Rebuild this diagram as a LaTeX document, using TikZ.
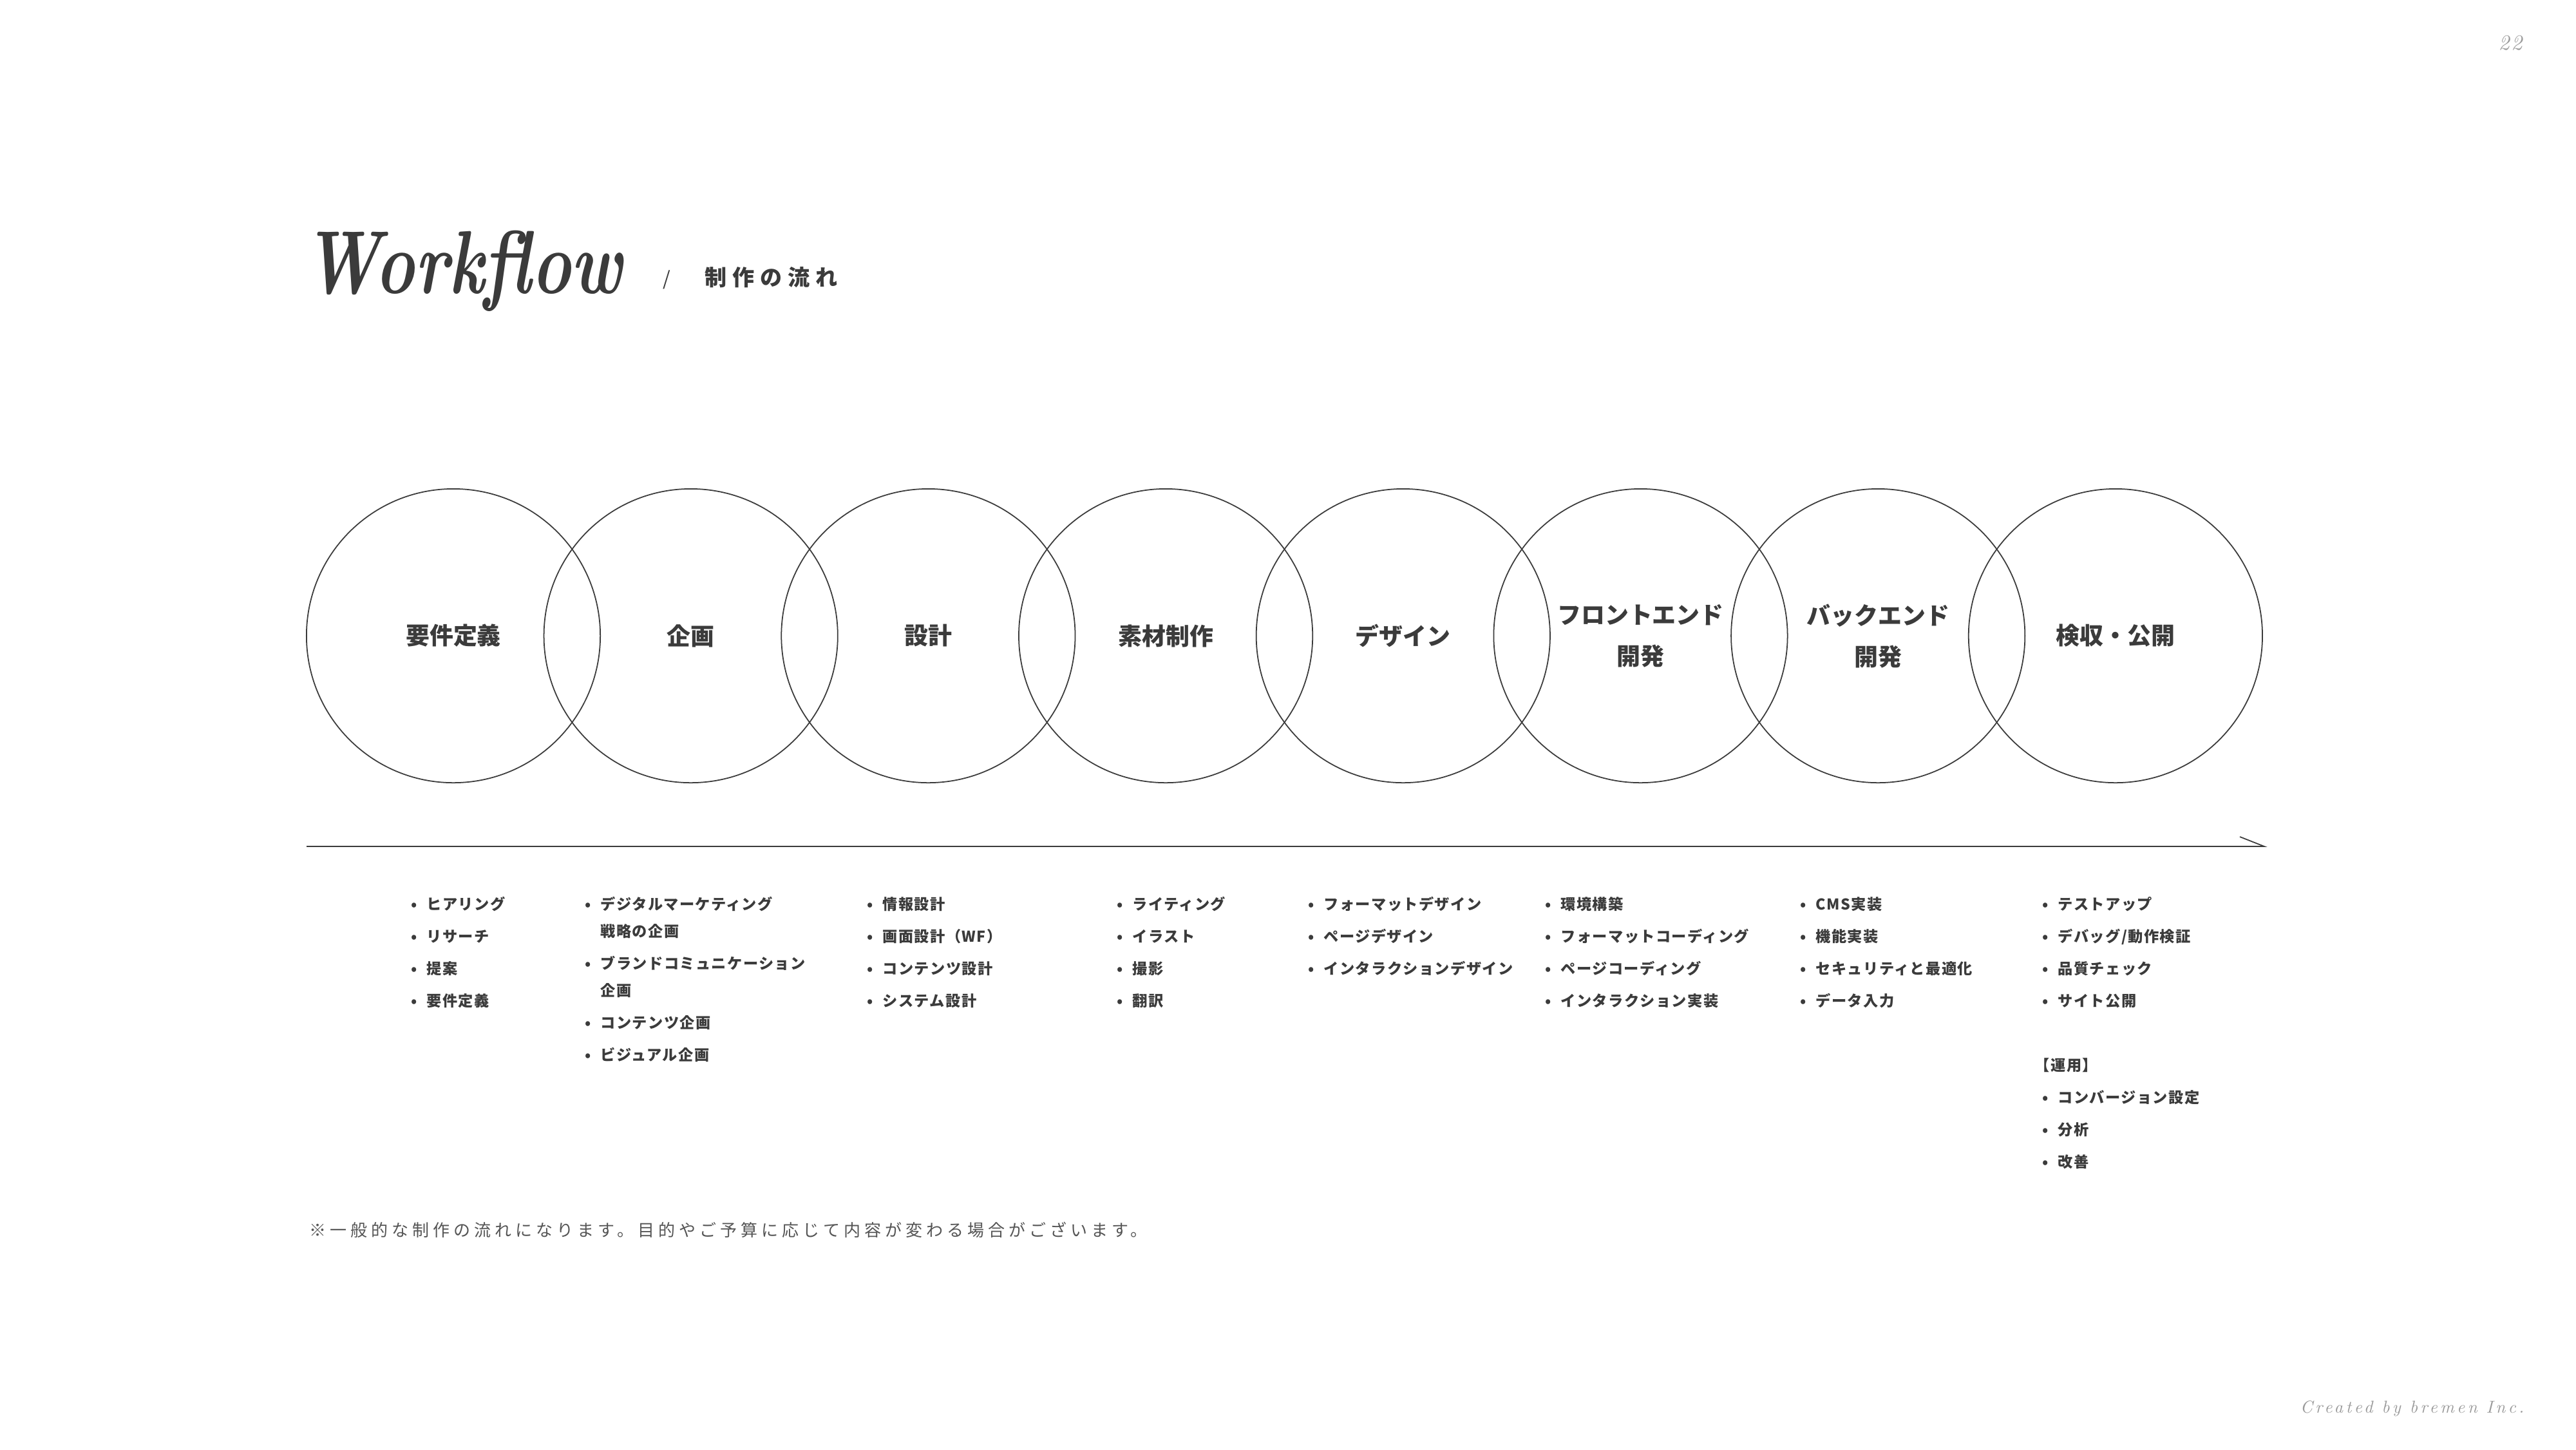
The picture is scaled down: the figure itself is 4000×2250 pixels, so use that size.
\documentclass[tikz,border=0pt]{standalone}
\usepackage{fontspec}
\newfontfamily\jpfont{Noto Sans CJK JP}
\newfontfamily\jpwide{Noto Sans CJK JP}[LetterSpace=26]
\newfontfamily\jpnote{Noto Sans CJK JP}[LetterSpace=23]
\newfontfamily\jplist{Noto Sans CJK JP}[LetterSpace=6]
\newfontfamily\creditfont{lmroman10-italic}[Extension=.otf, LetterSpace=16]
\newfontfamily\pagefont{lmroman10-italic}[Extension=.otf, LetterSpace=8]
\usetikzlibrary{positioning}

\definecolor{ink}{HTML}{3B3B3B}
\definecolor{mute}{HTML}{9A9A9A}
\definecolor{note}{HTML}{555555}

% bullet line and its continuation line
\newcommand{\itm}[1]{\makebox[5.7pt][l]{\makebox[0pt]{•}}#1}
\newcommand{\cont}[1]{\hspace*{5.7pt}#1}

\tikzset{
  phase/.style={circle, draw=ink, line width=0.5pt, minimum size=4.56cm, inner sep=0pt,
    text=ink, align=center, font=\jpfont\bfseries\fontsize{10.5pt}{18.2pt}\selectfont},
  items/.style={anchor=base west, inner sep=0pt, text=ink,
    font=\jplist\bfseries\fontsize{6.6pt}{11.95pt}\selectfont},
  rule/.style={draw=ink, line width=0.5pt},
}

\begin{document}
\begin{tikzpicture}[x=0.01cm, y=-0.01cm]
\fill[white] (0,0) rectangle (4000,2250);
\useasboundingbox (0,0) rectangle (4000,2250);

% title
\node[anchor=base west, inner sep=0pt, text=ink] (title) at (470,455)
  {\scalebox{0.75}[1]{\fontsize{39.5pt}{40pt}\selectfont\bfseries\itshape Workflow}};
\node[anchor=base, inner sep=0pt, text=ink] (slash) at (1035,443)
  {\jpfont\fontsize{8.5pt}{9pt}\selectfont /};
\node[anchor=base west, inner sep=0pt, text=ink] (subtitle) at (1094,443)
  {\jpwide\bfseries\fontsize{9.7pt}{10pt}\selectfont 制作の流れ};

% page number
\node[anchor=base east, inner sep=0pt, text=mute] (page) at (3917,77)
  {\pagefont\fontsize{9.5pt}{10pt}\selectfont 22};

% circles
\node[phase] (req)    at (704,987)    {要件定義};
\node[phase] (plan)   at (1072.7,987) {企画};
\node[phase] (spec)   at (1441.4,987) {設計};
\node[phase] (asset)  at (1810.1,987) {素材制作};
\node[phase] (visual) at (2178.8,987) {デザイン};
\node[phase] (front)  at (2547.5,987) {フロントエンド\\開発};
\node[phase] (back)   at (2916.2,987) {バックエンド\\開発};
\node[phase] (launch) at (3284.9,987) {検収・公開};

% time line
\coordinate (t0) at (476,1314);
\coordinate (t1) at (3516,1314);
\coordinate (tb) at (3478,1299);
\draw[rule] (t0) -- (t1) -- (tb);

% task lists
\node[items] (l1) at (642,1412) {\begin{tabular}[t]{@{}l@{}}
  \itm{ヒアリング}\\[2.28pt]
  \itm{リサーチ}\\[2.28pt]
  \itm{提案}\\[2.28pt]
  \itm{要件定義}
\end{tabular}};
\node[items] (l2) at (912,1412) {\begin{tabular}[t]{@{}l@{}}
  \itm{デジタルマーケティング}\\
  \cont{戦略の企画}\\[2.28pt]
  \itm{ブランドコミュニケーション}\\
  \cont{企画}\\[2.28pt]
  \itm{コンテンツ企画}\\[2.28pt]
  \itm{ビジュアル企画}
\end{tabular}};
\node[items] (l3) at (1350,1412) {\begin{tabular}[t]{@{}l@{}}
  \itm{情報設計}\\[2.28pt]
  \itm{画面設計（WF）}\\[2.28pt]
  \itm{コンテンツ設計}\\[2.28pt]
  \itm{システム設計}
\end{tabular}};
\node[items] (l4) at (1738,1412) {\begin{tabular}[t]{@{}l@{}}
  \itm{ライティング}\\[2.28pt]
  \itm{イラスト}\\[2.28pt]
  \itm{撮影}\\[2.28pt]
  \itm{翻訳}
\end{tabular}};
\node[items] (l5) at (2035,1412) {\begin{tabular}[t]{@{}l@{}}
  \itm{フォーマットデザイン}\\[2.28pt]
  \itm{ページデザイン}\\[2.28pt]
  \itm{インタラクションデザイン}
\end{tabular}};
\node[items] (l6) at (2403,1412) {\begin{tabular}[t]{@{}l@{}}
  \itm{環境構築}\\[2.28pt]
  \itm{フォーマットコーディング}\\[2.28pt]
  \itm{ページコーディング}\\[2.28pt]
  \itm{インタラクション実装}
\end{tabular}};
\node[items] (l7) at (2799,1412) {\begin{tabular}[t]{@{}l@{}}
  \itm{CMS実装}\\[2.28pt]
  \itm{機能実装}\\[2.28pt]
  \itm{セキュリティと最適化}\\[2.28pt]
  \itm{データ入力}
\end{tabular}};
\node[items] (l8) at (3175,1412) {\begin{tabular}[t]{@{}l@{}}
  \itm{テストアップ}\\[2.28pt]
  \itm{デバッグ/動作検証}\\[2.28pt]
  \itm{品質チェック}\\[2.28pt]
  \itm{サイト公開}\\[2.28pt]
  \\[2.28pt]
  \hspace*{-4.5pt}【運用】\\[2.28pt]
  \itm{コンバージョン設定}\\[2.28pt]
  \itm{分析}\\[2.28pt]
  \itm{改善}
\end{tabular}};

% note
\node[anchor=base west, inner sep=0pt, text=note] (note) at (480,1919)
  {\jpnote\fontsize{7.4pt}{8pt}\selectfont ※一般的な制作の流れになります。目的やご予算に応じて内容が変わる場合がございます。};

% credit
\node[anchor=base east, inner sep=0pt, text=mute] (credit) at (3920,2193)
  {\creditfont\fontsize{7.6pt}{8pt}\selectfont Created by bremen Inc.};
\end{tikzpicture}
\end{document}
